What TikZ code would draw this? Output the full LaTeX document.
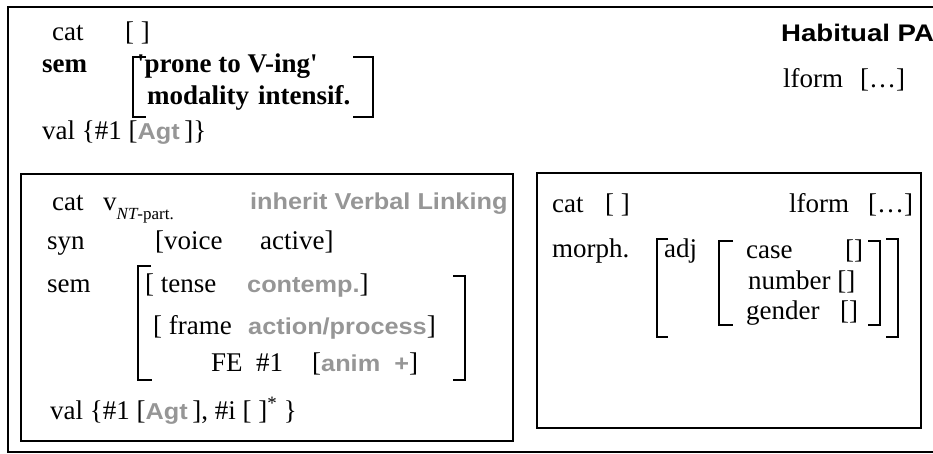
\documentclass[tikz,border=0pt]{standalone}
\usepackage{fontspec}
\setmainfont{Liberation Serif}[Ligatures=TeXOff]
\newfontfamily\sansb[FakeStretch=1.1]{Liberation Sans}
\newfontfamily\sansh[FakeStretch=1.15]{Liberation Sans}
\definecolor{gtxt}{RGB}{150,150,150}
\newcommand\grtxt[1]{{\fontsize{23}{27}\sansb\bfseries\color{gtxt}#1}}
\tikzset{
  tx/.style={anchor=base west, inner sep=0pt, font=\fontsize{27}{32}\selectfont},
  tb/.style={anchor=base west, inner sep=0pt, font=\fontsize{27}{32}\selectfont\bfseries},
  gx/.style={anchor=base west, inner sep=0pt, font=\fontsize{23}{27}\selectfont\sansb\bfseries, text=gtxt},
  hb/.style={anchor=base west, inner sep=0pt, font=\fontsize{24}{28}\selectfont\sansh\bfseries},
  frame/.style={draw, line width=1.5pt},
  brk/.style={draw, line width=1.5pt},
}
\begin{document}
\begin{tikzpicture}[x=1pt, y=-1pt]
\useasboundingbox (0,0) rectangle (933,453);
% boxes
\draw[frame] (940,7) -- (8,7) -- (8,452) -- (940,452);
\draw[frame] (21,174) rectangle (513,441);
\draw[frame] (537,173) rectangle (921,428);
% top section
\node[tx] (c1) at (52,40) {cat};
\node[tx] (c1v) at (125,40) {[ ]};
\node[tb] (s1) at (42,72) {sem};
\node[tb] (s1a) at (137,72) {'prone to V-ing'};
\node[tb] (m1) at (147,104) {modality};
\node[tb] (m1v) at (258,104) {intensif.};
\draw[brk] (146,57) -- (133,57) -- (133,117) -- (146,117);
\draw[brk] (353,57) -- (373,57) -- (373,117) -- (353,117);
\node[tx] (v1) at (42,139) {val \{\#1 [\grtxt{Agt}\,]\}};
\node[hb] (hab) at (781,41) {Habitual PA};
\node[tx] (lf1) at (783,87) {lform};
\node[tx] (lf1v) at (860,87) {[…]};
% left inner box
\node[tx] (c2) at (52,210) {cat};
\node[tx] (c2v) at (103,210) {v\raisebox{-9pt}{\fontsize{17}{19}\selectfont\itshape NT\upshape-part.}};
\node[gx] (inh) at (250,209) {inherit Verbal Linking};
\node[tx] (syn) at (47,249) {syn};
\node[tx] (voi) at (155,249) {[voice};
\node[tx] (act) at (260,249) {active]};
\node[tx] (sem2) at (47,292) {sem};
\node[tx] (ten) at (145,292) {[ tense};
\node[tx] (con) at (247,292) {\grtxt{contemp.}]};
\node[tx] (fra) at (153,334) {[ frame};
\node[tx] (ap) at (248,334) {\grtxt{action/process}]};
\node[tx] (fe) at (211,371) {FE\ \ \#1};
\node[tx] (an) at (312,371) {[\grtxt{anim\ \ +}]};
\draw[brk] (151,266) -- (138,266) -- (138,380) -- (152,380);
\draw[brk] (453,276) -- (465,276) -- (465,380) -- (453,380);
\node[tx] (v2) at (50,419) {val \{\#1 [\grtxt{Agt}\,], \#i [ ]\textsuperscript{*} \}};
% right inner box
\node[tx] (c3) at (552,212) {cat};
\node[tx] (c3v) at (605,212) {[ ]};
\node[tx] (lf3) at (789,212) {lform};
\node[tx] (lf3v) at (868,212) {[…]};
\node[tx] (mo) at (552,257) {morph.};
\node[tx] (adj) at (664,257) {adj};
\node[tx] (cs) at (746,258) {case};
\node[tx] (csv) at (845,258) {[]};
\node[tx] (nu) at (748,289) {number []};
\node[tx] (ge) at (746,319) {gender};
\node[tx] (gev) at (840,319) {[]};
\draw[brk] (668,239) -- (657,239) -- (657,337) -- (668,337);
\draw[brk] (733,241) -- (719,241) -- (719,325) -- (733,325);
\draw[brk] (868,241) -- (880,241) -- (880,325) -- (868,325);
\draw[brk] (886,239) -- (898,239) -- (898,337) -- (886,337);
\end{tikzpicture}
\end{document}
